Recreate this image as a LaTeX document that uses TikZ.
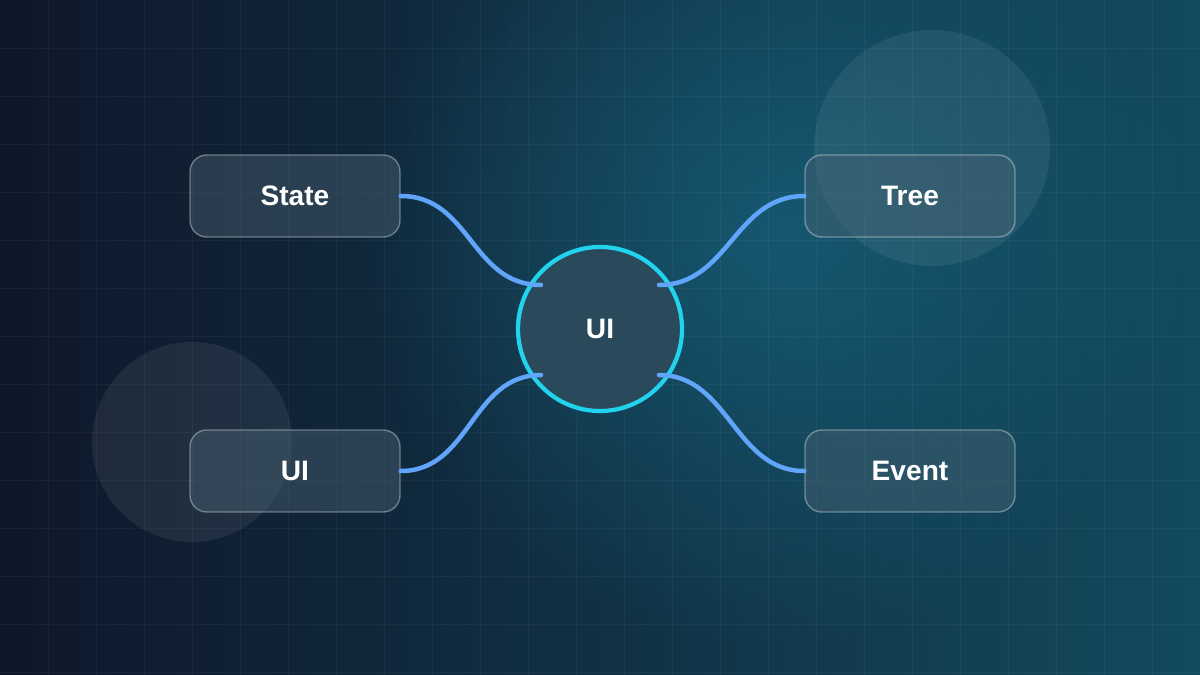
\documentclass[tikz,border=0pt]{standalone}
\usepackage{fontspec}
\setmainfont{Liberation Sans}
\usetikzlibrary{fadings}
\definecolor{bgdark}{HTML}{0F172A}
\definecolor{bgteal}{HTML}{134A5E}
\definecolor{glow}{HTML}{17607A}
\definecolor{wire}{HTML}{60A5FA}
\definecolor{ring}{HTML}{22D3EE}
\definecolor{boxfill}{HTML}{4A6272}
\definecolor{hubfill}{HTML}{2A4A5C}
\tikzfading[name=glowfade, inner color=transparent!0, outer color=transparent!100]
\begin{document}
\begin{tikzpicture}[x=0.025cm, y=-0.025cm,
box/.style={rounded corners=12pt, fill=boxfill, fill opacity=.45, text opacity=1, draw=white, draw opacity=.35, line width=1pt, minimum width=5.25cm, minimum height=2.05cm, text=white, font=\fontsize{20}{24}\selectfont\bfseries},
hub/.style={circle, fill=hubfill, draw=ring, line width=3pt, minimum size=4.1cm, text=white, font=\fontsize{20}{24}\selectfont\bfseries},
link/.style={wire, line width=3.2pt, line cap=round},
bubble/.style={fill=white, fill opacity=.07}]
% background
\useasboundingbox (0,0) rectangle (1200,675);
\shade[left color=bgdark, right color=bgteal] (0,0) rectangle (1200,675);
\begin{scope}
\clip (0,0) rectangle (1200,675);
\fill[glow, path fading=glowfade, fill opacity=.8] (780,230) circle (420);
\foreach \gx in {48,96,...,1152}
  \draw[white, opacity=.04] (\gx,0) -- (\gx,675);
\foreach \gy in {48,96,...,672}
  \draw[white, opacity=.04] (0,\gy) -- (1200,\gy);
\end{scope}
\fill[bubble] (932,148) circle (118);
\fill[bubble] (192,442) circle (100);
% nodes
\node[hub] (ui) at (600,329) {UI};
\node[box] (state) at (295,196) {State};
\node[box] (tree) at (910,196) {Tree};
\node[box] (uib) at (295,471) {UI};
\node[box] (event) at (910,471) {Event};
\coordinate (nw) at (541,285);
\coordinate (ne) at (659,285);
\coordinate (sw) at (541,375);
\coordinate (se) at (659,375);
% links
\draw[link] (state.east) .. controls +(70,0) and +(-70,0) .. (nw);
\draw[link] (tree.west) .. controls +(-70,0) and +(70,0) .. (ne);
\draw[link] (uib.east) .. controls +(70,0) and +(-70,0) .. (sw);
\draw[link] (event.west) .. controls +(-70,0) and +(70,0) .. (se);
\end{tikzpicture}
\end{document}
